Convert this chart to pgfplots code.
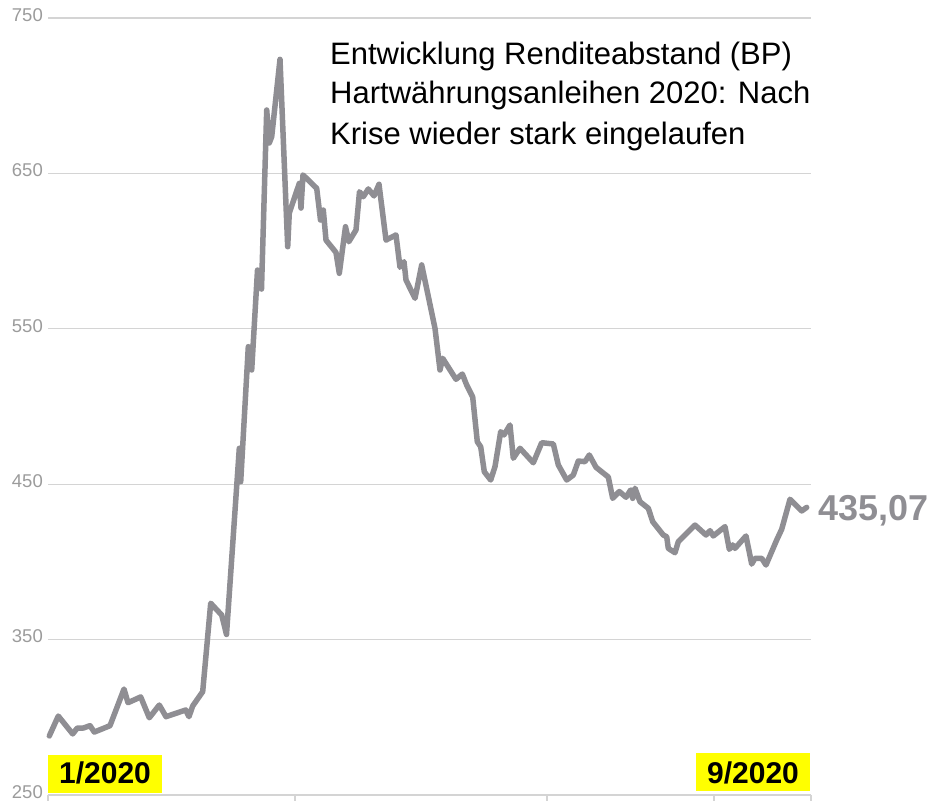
\documentclass[border=0pt]{standalone}
\usepackage{pgfplots}
\pgfplotsset{compat=1.18}
\usepackage{fontspec}
\setmainfont{Liberation Sans}
\definecolor{linegray}{RGB}{143,142,147}
\definecolor{labgray}{RGB}{155,155,155}
\definecolor{gridgray}{RGB}{212,212,212}
\definecolor{hlyellow}{RGB}{255,255,0}
\begin{document}
\begin{tikzpicture}[x=1pt,y=1pt]
\useasboundingbox (0,0) rectangle (935,801);
\begin{axis}[
  at={(48pt,6pt)}, anchor=south west,
  scale only axis, width=763pt, height=777pt,
  xmin=48, xmax=811, ymin=250, ymax=750,
  axis x line*=bottom, axis y line*=left,
  y axis line style={draw=none},
  x axis line style={draw=gridgray, line width=1.6pt},
  xtick={48,295,547,714,811}, xticklabels={},
  x tick style={draw=gridgray, line width=1.2pt},
  major tick length=6pt, tick align=outside,
  ytick={250,350,450,550,650,750},
  y tick style={draw=none},
  ymajorgrids, grid style={draw=gridgray, line width=1.2pt},
  yticklabel style={font=\fontsize{18.5}{20}\selectfont, text=labgray, yshift=3pt, inner sep=1pt, xshift=2pt},
  /pgf/number format/assume math mode=true,
  clip=false,
]
\addplot[linegray, line width=5.5pt, line join=round, line cap=round] coordinates {
(49.3,288.0) (58.3,300.8) (72.7,289.3) (77.3,293.1) (83.3,293.1) (90,294.6) (94.3,290.5)
(110,294.6) (124,318.2) (128,309.4) (140.7,313.1) (149.3,299.7) (159.3,307.9) (166,300.4)
(185.7,304.7) (189,300.4) (192.7,307.3) (202.7,316.5) (210.7,373.4) (221.7,365.8) (226.5,353.3)
(239.3,473.1) (240.7,451.6) (248.3,538.5) (251.7,523.5) (257.5,587.8) (261.5,575.6)
(266.7,690.8) (269.3,669.6) (271.7,673.6) (280,723.4) (287.7,602.8) (289.3,624.5)
(299.3,643.6) (301,627.7) (303,649) (316.7,640.4) (320.5,620) (323.3,626.4) (326,607.1)
(336,599.1) (339.3,585.7) (345.5,615.7) (348.8,606) (356,613.6) (359.5,638.2) (363.3,635)
(368.3,640) (374,635.5) (379,643) (386,607.1) (396,610.4) (400,589.6) (404,593.2) (406,581.4)
(415,569.6) (421.7,591.1) (435,550.3) (440,523.5) (442.7,531) (456,517.5) (462.3,520.9)
(466.7,513.8) (472.7,506.1) (477.3,477.3) (480.7,474.1) (484.3,458) (490.7,452.7) (495,461.3)
(500.7,483.8) (504,481.7) (510,488.1) (513.3,466.7) (520,473.1) (533.3,463.8) (541.7,476.7)
(553.3,475.9) (558.3,462.4) (566.7,452.7) (573.3,455.9) (578.3,464.9) (585,464.5) (589.3,468.8)
(596,460.9) (608.3,454.6) (612.7,440.9) (619.3,445.3) (626,441.6) (630.7,446.3) (632.7,440.9)
(635,447.4) (640,438.7) (648.3,434.5) (652.7,425.9) (663.3,417.3) (666.7,416.2) (668.3,408.7)
(675,405.9) (678.3,413) (695,423.7) (706,417.3) (710,420.1) (713.3,416.7) (725,422.7)
(729.3,408.1) (732.7,410.9) (735,408.7) (746,416.7) (751.7,398.6) (755,402.3) (761.7,402.3)
(766,398) (776.7,414.1) (781.7,421) (790,440.3) (801.7,432.8) (806.7,435.07)
};
\end{axis}
% title
\node[anchor=base west, inner sep=0pt, font=\fontsize{31}{40}\selectfont] at (330,736) {Entwicklung Renditeabstand (BP)};
\node[anchor=base west, inner sep=0pt, font=\fontsize{31}{40}\selectfont] at (330,697) {Hartwährungsanleihen 2020: Nach};
\node[anchor=base west, inner sep=0pt, font=\fontsize{31}{40}\selectfont] at (330,656) {Krise wieder stark eingelaufen};
% end value
\node[anchor=base west, inner sep=0pt, text=linegray, font=\bfseries\fontsize{36}{38}\selectfont] at (818,280.5) {435,07};
% date boxes
\fill[hlyellow] (48,8.3) rectangle (162,46);
\node[anchor=base, inner sep=0pt, font=\bfseries\fontsize{30}{32}\selectfont] at (105,17.7) {1/2020};
\fill[hlyellow] (696,10) rectangle (810,48);
\node[anchor=base, inner sep=0pt, font=\bfseries\fontsize{30}{32}\selectfont] at (753,17) {9/2020};
\end{tikzpicture}
\end{document}
